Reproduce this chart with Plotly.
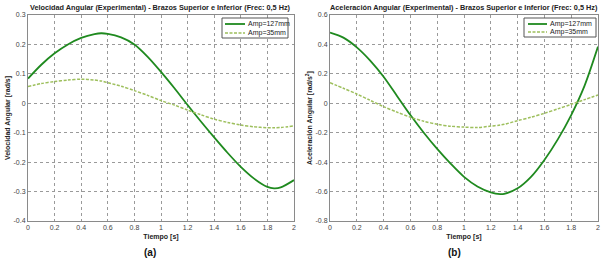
import plotly.graph_objects as go

# Velocity (left)
t_vel = [0, 0.1, 0.2, 0.3, 0.4, 0.5, 0.55, 0.6, 0.7, 0.8, 0.9, 1.0, 1.1, 1.2, 1.3, 1.4, 1.5, 1.6, 1.7, 1.8, 1.85, 1.9, 2.0]
vel_127 = [0.084, 0.131, 0.170, 0.200, 0.222, 0.235, 0.238, 0.236, 0.224, 0.200, 0.158, 0.107, 0.052, -0.006, -0.062, -0.116, -0.168, -0.216, -0.256, -0.284, -0.289, -0.286, -0.261]
vel_35 = [0.057, 0.067, 0.074, 0.079, 0.082, 0.079, 0.076, 0.070, 0.058, 0.043, 0.027, 0.009, -0.006, -0.023, -0.039, -0.054, -0.065, -0.074, -0.080, -0.083, -0.083, -0.082, -0.077]

# Acceleration (right)
t_acc = [0, 0.1, 0.2, 0.3, 0.4, 0.5, 0.6, 0.7, 0.8, 0.9, 1.0, 1.1, 1.2, 1.27, 1.3, 1.4, 1.5, 1.6, 1.7, 1.8, 1.9, 2.0]
acc_127 = [0.48, 0.446, 0.38, 0.290, 0.180, 0.050, -0.08, -0.20, -0.31, -0.41, -0.50, -0.565, -0.605, -0.617, -0.615, -0.578, -0.50, -0.385, -0.245, -0.08, 0.12, 0.385]
acc_35 = [0.14, 0.102, 0.063, 0.02, -0.023, -0.06, -0.095, -0.122, -0.143, -0.156, -0.162, -0.165, -0.155, -0.148, -0.143, -0.118, -0.095, -0.068, -0.038, -0.007, 0.025, 0.056]

x_ticks = [0, 0.2, 0.4, 0.6, 0.8, 1, 1.2, 1.4, 1.6, 1.8, 2]
x_ticklabels = ["0", "0.2", "0.4", "0.6", "0.8", "1", "1.2", "1.4", "1.6", "1.8", "2"]
vel_ticks = [0.3, 0.2, 0.1, 0, -0.1, -0.2, -0.3, -0.4]
vel_ticklabels = ["0.3", "0.2", "0.1", "0", "-0.1", "-0.2", "-0.3", "-0.4"]
acc_ticks = [0.6, 0.4, 0.2, 0, -0.2, -0.4, -0.6, -0.8]
acc_ticklabels = ["0.6", "0.4", "0.2", "0", "-0.2", "-0.4", "-0.6", "-0.8"]

names = ["Amp=127mm", "Amp=35mm"]
solid_c = "#1f8a1f"
dash_c = "#9dbf5c"
FONT = "Liberation Sans"
W, H = 602, 260


def px(x):
    return x / W


def py(y):
    return 1 - y / H


fig = go.Figure()
fig.add_trace(go.Scatter(x=t_vel, y=vel_127, mode="lines", name=names[0], line=dict(color=solid_c, width=1.8, shape="spline", smoothing=0.8), xaxis="x", yaxis="y"))
fig.add_trace(go.Scatter(x=t_vel, y=vel_35, mode="lines", name=names[1], line=dict(color=dash_c, width=1.5, dash="3px,1.5px", shape="spline", smoothing=0.8), xaxis="x", yaxis="y"))
fig.add_trace(go.Scatter(x=t_acc, y=acc_127, mode="lines", name=names[0], line=dict(color=solid_c, width=1.8, shape="spline", smoothing=0.8), xaxis="x2", yaxis="y2"))
fig.add_trace(go.Scatter(x=t_acc, y=acc_35, mode="lines", name=names[1], line=dict(color=dash_c, width=1.5, dash="3px,1.5px", shape="spline", smoothing=0.8), xaxis="x2", yaxis="y2"))

ydom = [py(221), py(15)]
xdom1 = [px(28), px(294)]
xdom2 = [px(330), px(598)]

axis_common = dict(showgrid=True, gridcolor="#9a9a9a", griddash="dot", gridwidth=1,
                   showline=True, linecolor="#8a8a8a", linewidth=1, mirror=True, automargin=False,
                   zeroline=False, ticks="", tickfont=dict(family=FONT, size=7, color="#444"))
title_font = dict(family=FONT, size=7, color="#222")

shapes = []
annotations = []

# Manual legends (box, line samples, labels)
legend_boxes = [
    dict(x0=222, x1=288, y0=18, y1=38, lx0=225, lx1=245, tx=246, ty=[24, 33]),
    dict(x0=524, x1=596, y0=18, y1=37, lx0=528, lx1=547, tx=548, ty=[24, 32]),
]
for lb in legend_boxes:
    shapes.append(dict(type="rect", xref="paper", yref="paper", x0=px(lb["x0"]), x1=px(lb["x1"]),
                       y0=py(lb["y1"]), y1=py(lb["y0"]), line=dict(color="#555", width=1), fillcolor="white", layer="above"))
    for i, (nm, col, dash, wd) in enumerate([(names[0], solid_c, "solid", 1.8), (names[1], dash_c, "3px,1.5px", 1.5)]):
        yy = py(lb["ty"][i])
        shapes.append(dict(type="line", xref="paper", yref="paper", x0=px(lb["lx0"]), x1=px(lb["lx1"]),
                           y0=yy, y1=yy, line=dict(color=col, width=wd, dash=dash), layer="above"))
        annotations.append(dict(text=nm, x=px(lb["tx"]), y=yy, xref="paper", yref="paper", showarrow=False,
                                xanchor="left", yanchor="middle", font=dict(family=FONT, size=7, color="#222")))

annotations += [
    dict(text="<b>Velocidad Angular (Experimental) - Brazos Superior e Inferior (Frec: 0,5 Hz)</b>",
         x=(xdom1[0] + xdom1[1]) / 2, y=py(7), xref="paper", yref="paper", showarrow=False,
         font=dict(family=FONT, size=7.3, color="#222"), xanchor="center", yanchor="middle"),
    dict(text="<b>Aceleración Angular (Experimental) - Brazos Superior e Inferior (Frec: 0,5 Hz)</b>",
         x=(xdom2[0] + xdom2[1]) / 2, y=py(7), xref="paper", yref="paper", showarrow=False,
         font=dict(family=FONT, size=7.3, color="#222"), xanchor="center", yanchor="middle"),
    dict(text="<b>(a)</b>", x=px(150), y=0, xref="paper", yref="paper", showarrow=False,
         font=dict(family=FONT, size=10, color="#111"), xanchor="center", yanchor="bottom"),
    dict(text="<b>(b)</b>", x=px(454), y=0, xref="paper", yref="paper", showarrow=False,
         font=dict(family=FONT, size=10, color="#111"), xanchor="center", yanchor="bottom"),
]

fig.update_layout(
    width=W, height=H, margin=dict(l=0, r=0, t=0, b=0),
    paper_bgcolor="white", plot_bgcolor="white", showlegend=False,
    xaxis=dict(domain=xdom1, range=[0, 2], tickvals=x_ticks, ticktext=x_ticklabels, anchor="y",
               title=dict(text="<b>Tiempo [s]</b>", font=title_font, standoff=3), **axis_common),
    yaxis=dict(domain=ydom, range=[-0.4, 0.3], tickvals=vel_ticks, ticktext=vel_ticklabels, anchor="x",
               title=dict(text="<b>Velocidad Angular [rad/s]</b>", font=title_font, standoff=2), **axis_common),
    xaxis2=dict(domain=xdom2, range=[0, 2], tickvals=x_ticks, ticktext=x_ticklabels, anchor="y2",
                title=dict(text="<b>Tiempo [s]</b>", font=title_font, standoff=3), **axis_common),
    yaxis2=dict(domain=ydom, range=[-0.8, 0.6], tickvals=acc_ticks, ticktext=acc_ticklabels, anchor="x2",
                title=dict(text="<b>Aceleración Angular [rad/s<sup>2</sup>]</b>", font=title_font, standoff=2), **axis_common),
    shapes=shapes,
    annotations=annotations,
)

fig.write_html("out.html", config={"displayModeBar": False},
               post_script="document.body.style.margin='0';document.body.style.padding='0';")
